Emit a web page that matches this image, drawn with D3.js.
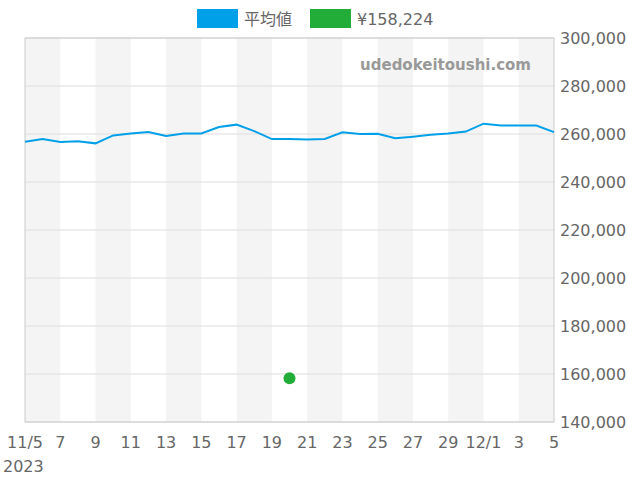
<!DOCTYPE html><html><head><meta charset="utf-8"><script src="https://cdn.jsdelivr.net/npm/d3@7"></script>
<style>body{margin:0;background:#fff}</style></head><body><svg id="c" width="640" height="480"></svg><script>
const avgValues=[256800,257900,256700,257000,256100,259400,260200,260800,259200,260200,260200,262900,263900,261200,257900,257900,257700,257900,260700,260000,260100,258200,258900,259700,260200,261000,264300,263500,263500,263500,260800];
const pointDay=15, pointValue=158224;
const xTickDays=[0,2,4,6,8,10,12,14,16,18,20,22,24,26,28,30];
const xTickLabels=["11/5","7","9","11","13","15","17","19","21","23","25","27","29","12/1","3","5"];
const yTicks=[140000,160000,180000,200000,220000,240000,260000,280000,300000];
const svg=d3.select("#c"),F="DejaVu Sans, sans-serif";
const x=d3.scaleLinear().domain([0,30]).range([25,554]);
const y=d3.scaleLinear().domain([140000,300000]).range([422,38]);
for(let d=0;d<30;d+=4)svg.append("rect").attr("x",x(d)).attr("y",38).attr("width",x(d+2)-x(d)).attr("height",384).attr("fill","#f4f4f4");
yTicks.forEach(t=>svg.append("line").attr("x1",25).attr("x2",554).attr("y1",y(t)).attr("y2",y(t)).attr("stroke","#ddd"));
svg.append("rect").attr("x",25).attr("y",38).attr("width",529).attr("height",384).attr("fill","none").attr("stroke","#ccc");
yTicks.forEach(t=>svg.append("text").attr("x",560).attr("y",y(t)+6).text(d3.format(",")(t)).attr("font-family",F).attr("font-size",16).attr("fill","#666"));
xTickDays.forEach((d,i)=>svg.append("text").attr("x",x(d)).attr("y",448).attr("text-anchor","middle").text(xTickLabels[i]).attr("font-family",F).attr("font-size",16).attr("fill","#666"));
svg.append("text").attr("x",3).attr("y",472).text("2023").attr("font-family",F).attr("font-size",16).attr("fill","#666");
svg.append("path").datum(avgValues).attr("d",d3.line().x((v,i)=>x(i)).y(v=>y(v))).attr("fill","none").attr("stroke","#00a0e9").attr("stroke-width",2);
svg.append("circle").attr("cx",x(pointDay)).attr("cy",y(pointValue)).attr("r",6).attr("fill","#22ac38");
svg.append("text").attr("x",531).attr("y",70).attr("text-anchor","end").text("udedokeitoushi.com").attr("font-family",F).attr("font-size",15).attr("font-weight","bold").attr("fill","#999");
svg.append("rect").attr("x",197).attr("y",9).attr("width",41).attr("height",19).attr("fill","#00a0e9");
svg.append("text").attr("x",244).attr("y",25).text("平均値").attr("font-family","Noto Sans CJK JP, sans-serif").attr("font-size",16).attr("fill","#666");
svg.append("rect").attr("x",310).attr("y",9).attr("width",41).attr("height",19).attr("fill","#22ac38");
svg.append("text").attr("x",357).attr("y",25).text("¥158,224").attr("font-family",F).attr("font-size",16).attr("fill","#666");
</script></body></html>
